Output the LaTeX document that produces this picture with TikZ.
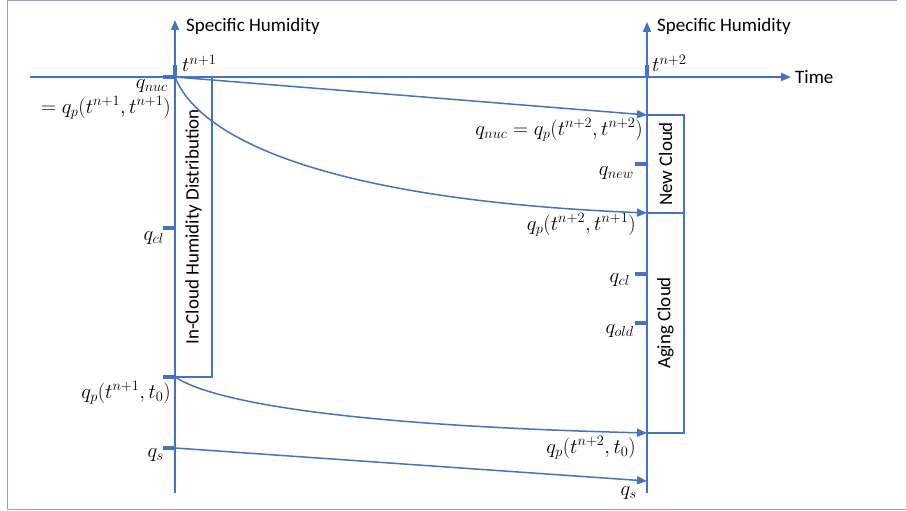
\documentclass[tikz,border=0pt]{standalone}
\usepackage{fontspec}
\setmainfont{Carlito}
\usetikzlibrary{arrows.meta, positioning}
\definecolor{axisblue}{HTML}{4472C4}
\definecolor{framegray}{HTML}{8EA2C8}

\begin{document}
\begin{tikzpicture}[x=1pt, y=-1pt, >={Triangle[length=10pt,width=8pt]}, font=\fontsize{19}{22}\selectfont]
    \tikzstyle{axis} = [draw=axisblue, line width=1.8pt]
    \tikzstyle{curve} = [draw=axisblue, line width=1.5pt]
    \tikzstyle{tick} = [draw=axisblue, line width=3.5pt]
    \tikzstyle{cloudbox} = [draw=axisblue, line width=1.5pt]
    \tikzstyle{qlabel} = [inner sep=0pt, anchor=east, font=\fontsize{21}{24}\selectfont]
    \tikzstyle{boxtext} = [rotate=90, inner sep=0pt]

    % Frame
    \useasboundingbox (0,0) rectangle (906,511);
    \draw [framegray, line width=1pt] (906,509) -- (7,509) -- (7,0.5) -- (897,0.5);

    % Axes
    \coordinate (left_top) at (175,20);
    \coordinate (left_bot) at (175,493);
    \coordinate (right_top) at (647,22);
    \coordinate (right_bot) at (647,493);
    \coordinate (time_start) at (30,77);
    \coordinate (time_end) at (791,77);
    \coordinate (tn1) at (175,77);
    \coordinate (tn2) at (647,77);

    \draw [axis, ->] (left_bot) -- (left_top);
    \draw [axis, ->] (right_bot) -- (right_top);
    \draw [axis, ->] (time_start) -- (time_end);

    \node [anchor=west, inner sep=0pt] (hum_left) at (186,26) {Specific Humidity};
    \node [anchor=west, inner sep=0pt] (hum_right) at (657,26) {Specific Humidity};
    \node [right=4pt of time_end, inner sep=0pt] (time) {Time};
    \node [qlabel, anchor=base west] (tn1_lbl) at (182,72) {$t^{n+1}$};
    \node [qlabel, anchor=base west] (tn2_lbl) at (652,72) {$t^{n+2}$};

    % Ticks
    \draw [tick] (tn1) -- ++(0,-12);
    \draw [tick] (tn2) -- ++(0,-12);
    \coordinate (q_nuc1) at (175,77);
    \coordinate (q_cl1) at (175,228);
    \coordinate (q_t0_1) at (175,377);
    \coordinate (q_s1) at (175,448);
    \foreach \q in {q_nuc1, q_cl1, q_t0_1, q_s1}
        \draw [tick] (\q) -- ++(-12,0);
    \coordinate (q_nuc2) at (647,115);
    \coordinate (q_new2) at (647,164);
    \coordinate (q_n1_2) at (647,213);
    \coordinate (q_cl2) at (647,274);
    \coordinate (q_old2) at (647,323);
    \coordinate (q_t0_2) at (647,433);
    \coordinate (q_s2) at (647,481);
    \foreach \q in {q_new2, q_cl2, q_old2}
        \draw [tick] (\q) -- ++(-12,0);

    % Boxes
    \draw [cloudbox] (q_nuc1) -| (212,377) -- (q_t0_1);
    \node [boxtext] (incloud) at (193.5,227) {In-Cloud Humidity Distribution};
    \draw [cloudbox] (q_nuc2) -| (684,213) -- (q_n1_2);
    \node [boxtext] (newcloud) at (665.5,164) {New Cloud};
    \draw [cloudbox] (q_n1_2) -| (684,433) -- (q_t0_2);
    \node [boxtext] (agingcloud) at (665.5,323) {Aging Cloud};

    % Labels, left axis
    \node [qlabel] (lbl_nuc1) at (168,86) {$q_{nuc}$};
    \node [qlabel] (lbl_nuc1b) at (171,108) {$=q_p(t^{n+1},t^{n+1})$};
    \node [qlabel] (lbl_cl1) at (164,238) {$q_{cl}$};
    \node [qlabel] (lbl_t0_1) at (171,393) {$q_p(t^{n+1},t_0)$};
    \node [qlabel] (lbl_s1) at (164,455) {$q_s$};

    % Labels, right axis
    \node [qlabel] (lbl_nuc2) at (643,130) {$q_{nuc}=q_p(t^{n+2},t^{n+2})$};
    \node [qlabel] (lbl_new2) at (634,173) {$q_{new}$};
    \node [qlabel] (lbl_n1_2) at (636,225) {$q_p(t^{n+2},t^{n+1})$};
    \node [qlabel] (lbl_cl2) at (630,280) {$q_{cl}$};
    \node [qlabel] (lbl_old2) at (634,331) {$q_{old}$};
    \node [qlabel] (lbl_t0_2) at (636,448) {$q_p(t^{n+2},t_0)$};
    \node [qlabel] (lbl_s2) at (637,493) {$q_s$};

    % Connections
    \draw [curve, ->] (q_nuc1) -- (q_nuc2);
    \draw [curve, ->] (q_nuc1) .. controls (200,140) and (330,200) .. (q_n1_2);
    \draw [curve, ->] (q_t0_1) .. controls (210,400) and (330,425) .. (q_t0_2);
    \draw [curve, ->] (q_s1) -- (q_s2);
\end{tikzpicture}
\end{document}
